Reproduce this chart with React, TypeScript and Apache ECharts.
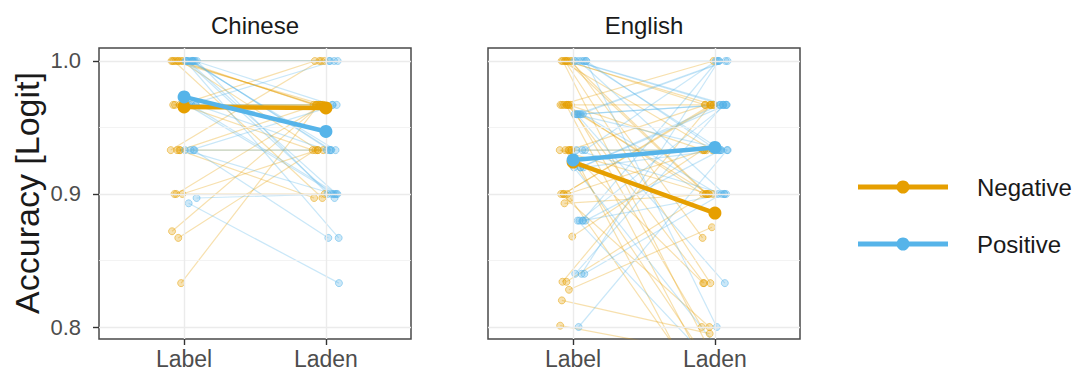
import React, { useEffect, useRef } from "react";
import * as echarts from "echarts";

const CONDITIONS = ["Label", "Laden"];
const PANELS = ["Chinese", "English"];
const VALENCES = ["Negative", "Positive"];
const Y_TICKS = [0.8, 0.9, 1.0];
const Y_MINOR = [0.85, 0.95];

// individual participants: accuracy in Label / Laden condition
const CN_NEG_LABEL = [1, 1, 1, 1, 1, 1, 1, 1, 0.967, 0.967, 0.967, 0.967, 0.933, 0.933, 0.933, 0.933, 0.9, 0.9, 0.9, 0.867, 0.872, 0.833];
const CN_NEG_LADEN = [0.967, 0.967, 0.933, 1, 0.967, 0.897, 0.967, 1, 1, 0.967, 0.933, 0.967, 0.933, 0.967, 1, 0.897, 0.967, 0.933, 0.9, 0.933, 0.967, 0.967];
const CN_POS_LABEL = [1, 1, 1, 1, 1, 1, 1, 1, 1, 0.967, 0.967, 0.967, 0.967, 0.933, 0.933, 0.933, 0.933, 0.897, 0.893, 1, 1, 0.967];
const CN_POS_LADEN = [1, 1, 0.967, 0.933, 0.9, 0.9, 0.933, 0.867, 1, 1, 0.933, 0.9, 0.9, 0.933, 0.9, 0.867, 0.967, 0.9, 0.833, 0.933, 0.897, 0.967];

const EN_NEG_LABEL = [1, 1, 1, 1, 1, 1, 1, 0.967, 0.967, 0.967, 0.967, 0.967, 0.967, 0.933, 0.933, 0.933, 0.933, 0.933, 0.9, 0.9, 0.9, 0.897, 0.893, 0.868, 0.834, 0.834, 0.828, 0.801, 0.967, 1, 0.933, 0.9, 0.967, 0.82];
const EN_NEG_LADEN = [0.967, 0.933, 0.9, 0.833, 0.867, 0.78, 0.9, 1, 0.933, 0.9, 0.8, 0.967, 0.76, 0.967, 0.9, 0.833, 0.77, 0.933, 0.967, 0.933, 0.8, 0.75, 0.9, 0.933, 0.967, 0.9, 0.875, 0.78, 0.833, 0.967, 0.74, 0.967, 0.9, 0.795];
const EN_POS_LABEL = [1, 1, 1, 1, 1, 0.96, 0.96, 0.96, 0.96, 0.96, 0.933, 0.933, 0.92, 0.92, 0.92, 0.88, 0.88, 0.88, 0.88, 0.84, 0.84, 0.84, 0.8, 1, 0.96, 0.92, 0.88, 1, 0.933, 0.96];
const EN_POS_LADEN = [1, 0.967, 0.933, 0.9, 0.8, 1, 0.967, 0.933, 0.9, 0.967, 1, 0.9, 0.967, 0.933, 0.78, 1, 0.967, 0.933, 0.76, 1, 0.967, 0.9, 0.933, 0.933, 0.833, 0.967, 0.9, 0.967, 0.933, 1];

// group means
const MEAN_CN_NEG = [0.9655, 0.9647];
const MEAN_CN_POS = [0.973, 0.947];
const MEAN_EN_NEG = [0.924, 0.8857];
const MEAN_EN_POS = [0.9256, 0.935];

// horizontal jitter of individual points (x units)
const JITTER_LABEL = [0.012, -0.031, 0.027, -0.008, 0.041, -0.022, 0.005, -0.039, 0.019, -0.014, 0.034, -0.027, 0.001, 0.023, -0.044, 0.016, -0.005, 0.038, -0.018, 0.009, -0.035, 0.029, -0.011, 0.044, -0.025, 0.003, 0.021, -0.041, 0.014, -0.003, 0.036, -0.016, 0.007, -0.029];
const JITTER_LADEN = [-0.021, 0.033, -0.006, 0.018, -0.037, 0.025, -0.013, 0.04, -0.028, 0.008, -0.043, 0.015, 0.031, -0.017, 0.004, -0.033, 0.026, -0.009, 0.042, -0.024, 0.011, -0.002, 0.035, -0.038, 0.02, -0.015, 0.029, 0.006, -0.026, 0.039, -0.01, 0.022, -0.034, 0.013];

const COLORS = ["#E69F00", "#56B4E9"];
const RGB = ["230,159,0", "86,180,233"];
const FONT = "Liberation Sans, Arial, Helvetica, sans-serif";

const INDIVIDUAL = [
  [[CN_NEG_LABEL, CN_NEG_LADEN], [CN_POS_LABEL, CN_POS_LADEN]],
  [[EN_NEG_LABEL, EN_NEG_LADEN], [EN_POS_LABEL, EN_POS_LADEN]],
];
const MEANS = [
  [MEAN_CN_NEG, MEAN_CN_POS],
  [MEAN_EN_NEG, MEAN_EN_POS],
];

const GRID_LEFT = [99, 488];
const GRID_TOP = 48;
const GRID_W = 312;
const GRID_H = 291;
const Y_MIN = 0.79098;
const Y_MAX = 1.00977;

export default function App() {
  const ref = useRef<HTMLDivElement>(null);
  useEffect(() => {
    if (!ref.current) return;
    const chart = echarts.init(ref.current, null, { renderer: "svg" });
    const series: any[] = [];

    PANELS.forEach((_, p) => {
      // grid lines
      series.push({
        type: "line",
        xAxisIndex: p,
        yAxisIndex: p,
        data: [],
        silent: true,
        z: 1,
        markLine: {
          silent: true,
          symbol: ["none", "none"],
          label: { show: false },
          animation: false,
          data: [
            ...Y_TICKS.map((v) => ({ yAxis: v, lineStyle: { color: "#ebebeb", width: 1.4, type: "solid" } })),
            ...Y_MINOR.map((v) => ({ yAxis: v, lineStyle: { color: "#f0f0f0", width: 0.8, type: "solid" } })),
            ...[1, 2].map((v) => ({ xAxis: v, lineStyle: { color: "#ebebeb", width: 1.4, type: "solid" } })),
          ],
        },
      });
      VALENCES.forEach((__, v) => {
        const [lab, lad] = INDIVIDUAL[p][v];
        const off = v === 0 ? -0.05 : 0.05;
        lab.forEach((y0, i) => {
          series.push({
            type: "line",
            xAxisIndex: p,
            yAxisIndex: p,
            silent: true,
            z: 2,
            data: [
              [1 + off + JITTER_LABEL[i % JITTER_LABEL.length], y0],
              [2 + off + JITTER_LADEN[i % JITTER_LADEN.length], lad[i]],
            ],
            symbol: "circle",
            symbolSize: 7,
            showSymbol: true,
            lineStyle: { color: `rgba(${RGB[v]},0.32)`, width: 1.2 },
            itemStyle: { color: `rgba(${RGB[v]},0.3)`, borderColor: `rgba(${RGB[v]},0.5)`, borderWidth: 1 },
          });
        });
      });
      VALENCES.forEach((name, v) => {
        series.push({
          type: "line",
          name,
          xAxisIndex: p,
          yAxisIndex: p,
          silent: true,
          z: 5,
          data: [
            [1, MEANS[p][v][0]],
            [2, MEANS[p][v][1]],
          ],
          symbol: "circle",
          symbolSize: 13,
          lineStyle: { color: COLORS[v], width: 4.5 },
          itemStyle: { color: COLORS[v], borderWidth: 0 },
        });
      });
    });

    const option: any = {
      animation: false,
      textStyle: { fontFamily: FONT },
      grid: GRID_LEFT.map((left) => ({
        left,
        top: GRID_TOP,
        width: GRID_W,
        height: GRID_H,
        show: true,
        borderColor: "#4a4a4a",
        borderWidth: 1.5,
        backgroundColor: "transparent",
      })),
      xAxis: PANELS.map((_, p) => ({
        type: "value",
        gridIndex: p,
        min: 0.4,
        max: 2.6,
        axisLine: { show: false },
        splitLine: { show: false },
        axisTick: { show: true, customValues: [1, 2], length: 6, lineStyle: { color: "#333", width: 1.4 } },
        axisLabel: {
          customValues: [1, 2],
          formatter: (val: number) => CONDITIONS[Math.round(val) - 1] ?? "",
          color: "#4d4d4d",
          fontSize: 23,
          fontFamily: FONT,
          margin: 8,
        },
      })),
      yAxis: PANELS.map((_, p) => ({
        type: "value",
        gridIndex: p,
        min: Y_MIN,
        max: Y_MAX,
        axisLine: { show: false },
        splitLine: { show: false },
        axisTick: { show: p === 0, customValues: Y_TICKS, length: 6, lineStyle: { color: "#333", width: 1.4 } },
        axisLabel: {
          show: p === 0,
          customValues: Y_TICKS,
          formatter: (val: number) => val.toFixed(1),
          color: "#4d4d4d",
          fontSize: 22,
          fontFamily: FONT,
          margin: 18,
        },
      })),
      graphic: [
        ...PANELS.map((t, p) => ({
          type: "text",
          x: GRID_LEFT[p] + GRID_W / 2,
          y: 25,
          style: { text: t, fill: "#1a1a1a", fontSize: 24, fontFamily: FONT, textAlign: "center", textVerticalAlign: "middle" },
        })),
        {
          type: "text",
          x: 27,
          y: 193,
          rotation: Math.PI / 2,
          style: { text: "Accuracy [Logit]", fill: "#1a1a1a", fontSize: 34, fontFamily: FONT, textAlign: "center", textVerticalAlign: "middle" },
        },
        ...VALENCES.flatMap((name, v) => {
          const y = v === 0 ? 187 : 244;
          return [
            { type: "line", shape: { x1: 858, y1: y, x2: 948, y2: y }, style: { stroke: COLORS[v], lineWidth: 5 } },
            { type: "circle", shape: { cx: 903, cy: y, r: 6.5 }, style: { fill: COLORS[v] } },
            {
              type: "text",
              x: 977,
              y,
              style: { text: name, fill: "#1a1a1a", fontSize: 24, fontFamily: FONT, textAlign: "left", textVerticalAlign: "middle" },
            },
          ];
        }),
      ],
      series,
    };
    chart.setOption(option);
    return () => chart.dispose();
  }, []);
  return <div ref={ref} style={{ position: "fixed", left: 0, top: 0, width: 1079, height: 373, background: "#fff" }} />;
}
